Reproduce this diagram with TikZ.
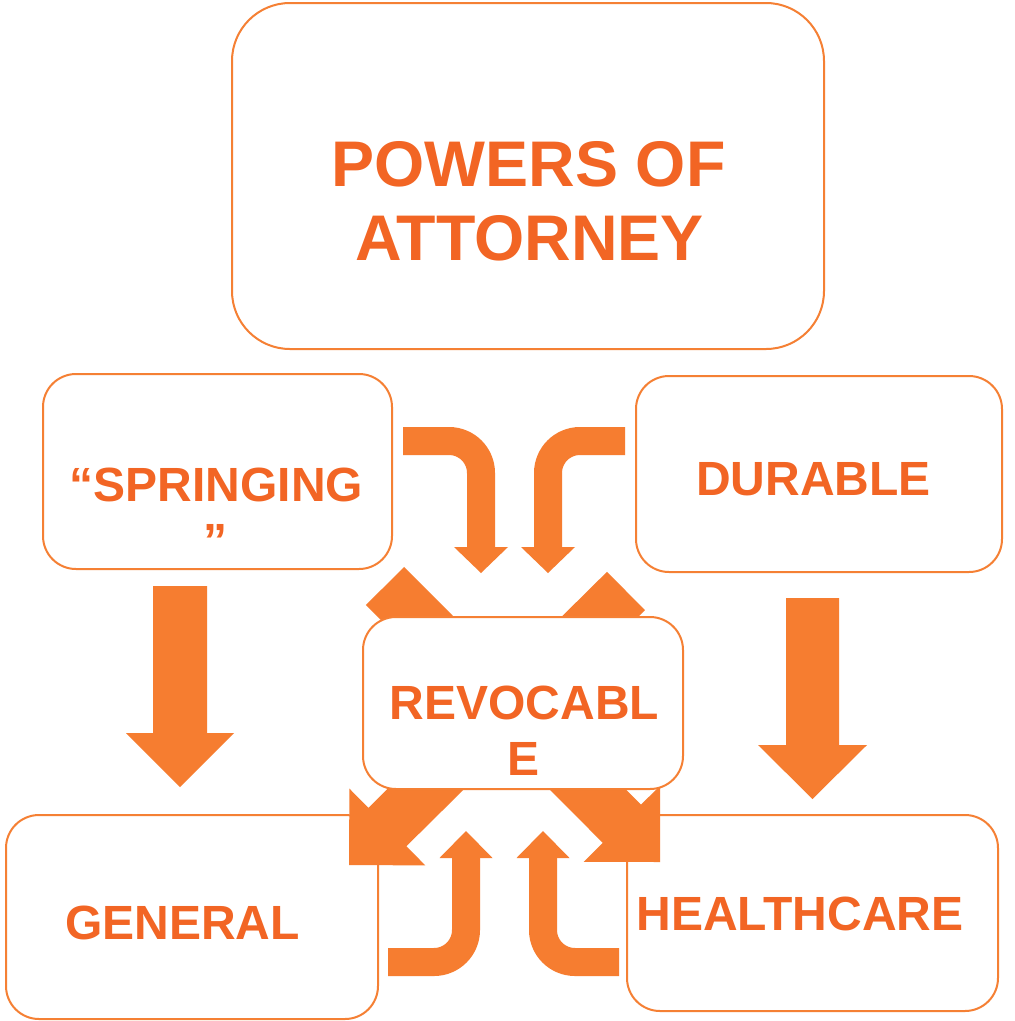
\documentclass[tikz,border=0pt]{standalone}
\usepackage{fontspec}
\setmainfont{Liberation Sans}
\usetikzlibrary{calc}

\definecolor{potext}{RGB}{242,101,36}
\definecolor{pofill}{RGB}{246,125,48}
\definecolor{poline}{RGB}{245,128,52}

\tikzset{
  panel/.style={draw=poline, line width=2pt, fill=white, rounded corners=33pt, inner sep=0pt},
  bigpanel/.style={panel, rounded corners=58pt},
  lettering/.style={text=potext, inner sep=0pt, anchor=base, font=\bfseries\fontsize{48}{56}\selectfont},
  bigletters/.style={lettering, font=\bfseries\fontsize{64.5}{74}\selectfont},
  blockfill/.style={fill=pofill, draw=none},
}

% straight block arrow: tail, tip, half shaft width, half head width, head length
\newcommand\poarrow[5]{%
  \coordinate (ba-b) at ($(#2)!#5!(#1)$);
  \fill[blockfill] ($(#1)!#3!90:(#2)$) -- ($(ba-b)!#3!90:(#2)$) -- ($(ba-b)!#4!90:(#2)$)
    -- (#2) -- ($(ba-b)!#4!-90:(#2)$) -- ($(ba-b)!#3!-90:(#2)$) -- ($(#1)!#3!-90:(#2)$) -- cycle;}

% bent block arrow: start, corner, head base, tip, half head width
\newcommand\bentarrow[5]{%
  \draw[pofill, line width=28pt, rounded corners=32pt] (#1) -- (#2) -- (#3);
  \fill[blockfill] ($(#3)!#5!90:(#4)$) -- (#4) -- ($(#3)!#5!-90:(#4)$) -- cycle;}

\begin{document}
\begin{tikzpicture}[x=1pt, y=-1pt]
  \fill[white] (0,0) rectangle (1015,1021);
  \useasboundingbox (0,0) rectangle (1015,1021);

  % outer panels
  \node[bigpanel, minimum width=592pt, minimum height=346pt] (powers) at (528,176) {};
  \node[panel, minimum width=349pt, minimum height=195pt] (springing) at (217.5,471.5) {};
  \node[panel, minimum width=366pt, minimum height=196pt] (durable) at (819,474) {};
  \node[panel, minimum width=372pt, minimum height=204pt] (general) at (192,917) {};
  \node[panel, minimum width=371pt, minimum height=196pt] (healthcare) at (812.5,913) {};

  \node[bigletters] (powers-a) at (528.5,186) {POWERS OF};
  \node[bigletters] (powers-b) at (529.5,260) {ATTORNEY};
  \node[lettering] (springing-a) at (216.5,501) {“SPRINGING};
  \node[lettering] (springing-b) at (215,557) {”};
  \node[lettering] (durable-t) at (813.5,495) {DURABLE};
  \node[lettering] (general-t) at (182.5,939) {GENERAL};
  \node[lettering] (healthcare-t) at (800,930) {HEALTHCARE};

  % straight arrows
  \coordinate (sg-tail) at (180,586);   \coordinate (sg-tip) at (180,787);
  \coordinate (dh-tail) at (812.5,598); \coordinate (dh-tip) at (812.5,799);
  \poarrow{sg-tail}{sg-tip}{27pt}{54pt}{54pt}
  \poarrow{dh-tail}{dh-tip}{26.5pt}{54.5pt}{54pt}

  % crossing diagonal arrows
  \coordinate (da-tail) at (385,586); \coordinate (da-tip) at (660,862);
  \coordinate (db-tail) at (626,591); \coordinate (db-tip) at (349,865);
  \poarrow{da-tail}{da-tip}{27pt}{54pt}{54pt}
  \poarrow{db-tail}{db-tip}{27pt}{54pt}{54pt}

  % bent arrows above the centre panel
  \coordinate (tl-s) at (403,441); \coordinate (tl-c) at (481,441);
  \coordinate (tl-b) at (481,547); \coordinate (tl-t) at (481,573);
  \coordinate (tr-s) at (625,441); \coordinate (tr-c) at (548,441);
  \coordinate (tr-b) at (548,547); \coordinate (tr-t) at (548,573);
  \bentarrow{tl-s}{tl-c}{tl-b}{tl-t}{27pt}
  \bentarrow{tr-s}{tr-c}{tr-b}{tr-t}{27pt}

  % bent arrows below the centre panel
  \coordinate (bl-s) at (388,962); \coordinate (bl-c) at (466,962);
  \coordinate (bl-b) at (466,858); \coordinate (bl-t) at (466,831);
  \coordinate (br-s) at (619,962); \coordinate (br-c) at (543,962);
  \coordinate (br-b) at (543,858); \coordinate (br-t) at (543,831);
  \bentarrow{bl-s}{bl-c}{bl-b}{bl-t}{26.5pt}
  \bentarrow{br-s}{br-c}{br-b}{br-t}{26.5pt}

  % centre panel on top of the arrows
  \node[panel, minimum width=320pt, minimum height=172pt] (revocable) at (523,703) {};
  \node[lettering] (revocable-a) at (524.5,719) {REVOCABL};
  \node[lettering] (revocable-b) at (524,775) {E};
\end{tikzpicture}
\end{document}
